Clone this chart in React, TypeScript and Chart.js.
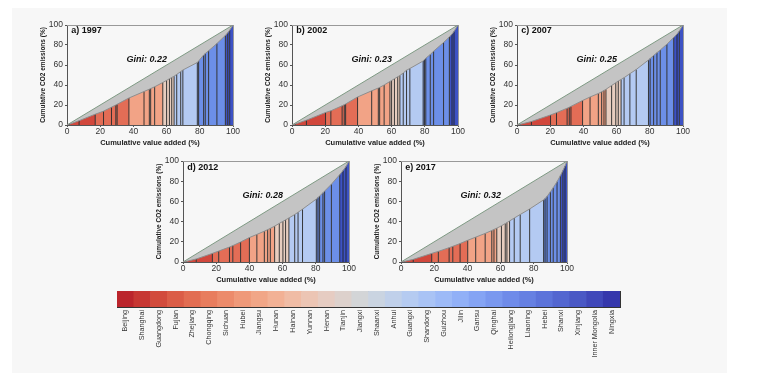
import React, { useEffect, useRef } from "react";
import { Chart, registerables } from "chart.js";
Chart.register(...registerables);

const FONT = '"Liberation Sans", Arial, sans-serif';

const provinces = ["Beijing", "Shanghai", "Guangdong", "Fujian", "Zhejiang", "Chongqing", "Sichuan", "Hubei", "Jiangsu", "Hunan", "Hainan", "Yunnan", "Henan", "Tianjin", "Jiangxi", "Shaanxi", "Anhui", "Guangxi", "Shandong", "Guizhou", "Jilin", "Gansu", "Qinghai", "Heilongjiang", "Liaoning", "Hebei", "Shanxi", "Xinjiang", "Inner Mongolia", "Ningxia"];
const legendValues = [1, 1, 1, 1, 1, 1, 1, 1, 1, 1, 1, 1, 1, 1, 1, 1, 1, 1, 1, 1, 1, 1, 1, 1, 1, 1, 1, 1, 1, 1];
const legendColors = ["#bb252c", "#c73733", "#d24b3c", "#db5d47", "#e26d52", "#e87d5e", "#ec8b6b", "#ef9979", "#f1a687", "#f2b195", "#f0bca5", "#ecc5b4", "#e6ccc2", "#ddd1cc", "#d3d5d7", "#cad4e1", "#c0d0ea", "#b5cbf1", "#a9c3f5", "#9dbaf7", "#91b0f7", "#85a4f4", "#7a98ef", "#6f8be9", "#6680e2", "#5c73da", "#5366d0", "#4a58c5", "#4048ba", "#3537ac"];

// colour group of each rank position (segment) in the Lorenz panels
const rankGroup = [0, 0, 0, 1, 1, 1, 1, 1, 2, 2, 2, 2, 2, 3, 3, 3, 3, 4, 4, 4, 4, 5, 5, 5, 5, 5, 5, 6, 6, 6];
const groupColors = ["#d1473c", "#e36d56", "#f2a386", "#e7cdbf", "#b4caf2", "#6c8fe8", "#3d52c4"];

const panelLabels = ["a) 1997", "b) 2002", "c) 2007", "d) 2012", "e) 2017"];
const giniValues = ["0.22", "0.23", "0.25", "0.28", "0.32"];

const cumValue1997 = [0, 1.5, 7.3, 17, 22, 26.8, 29.4, 30.2, 37.3, 46.4, 49.6, 50.4, 52.8, 57.7, 60, 61.7, 63.1, 64.5, 66.1, 68.5, 69.8, 78.5, 79.3, 82.3, 83.3, 85.3, 90.3, 95.4, 96.8, 98, 100];
const cumCO2_1997 = [0, 0.8, 4.3, 10.8, 13.8, 17.8, 20, 20.7, 27, 33.5, 35.8, 36.4, 38.2, 42.5, 44.6, 46.2, 47.5, 48.8, 50.6, 53.4, 55, 62.5, 64, 70, 71.5, 74.2, 81.5, 89.5, 92.2, 94.8, 100];

const cumValue2002 = [0, 2, 8.7, 20.2, 23.4, 30.2, 31.5, 32.3, 39.5, 48, 52, 52.8, 55.5, 59, 60, 61.7, 63.7, 65, 67, 69, 71, 79, 79.8, 80.6, 83.3, 85.3, 91.3, 94.8, 96.4, 97.6, 100];
const cumCO2_2002 = [0, 1, 4.8, 12.5, 14.2, 19.2, 20.3, 21, 28, 34.2, 37, 37.6, 40, 43.5, 44.5, 46.2, 48.2, 49.5, 52, 54.8, 56.5, 64, 65.4, 66.8, 70.5, 73.8, 82.5, 88, 91, 93.6, 100];

const cumValue2007 = [0, 2, 8.7, 20.2, 23.8, 30.2, 31.5, 32.5, 39.5, 44, 49, 51, 52.4, 53.6, 57, 59.5, 61, 62.7, 64.5, 68, 71.8, 79.2, 80.2, 82.3, 84.3, 86.3, 90.3, 94.4, 96.4, 97.8, 100];
const cumCO2_2007 = [0, 0.7, 3.5, 10, 12.3, 16.8, 17.8, 18.6, 24.5, 28, 31.5, 33.2, 34.5, 35.7, 39.5, 42.2, 44, 45.5, 47.3, 51.3, 55.5, 65, 66.5, 69.5, 72.3, 75, 80.8, 87.5, 91, 94, 100];

const cumValue2012 = [0, 2, 8, 17.7, 21.5, 28, 30, 34.7, 40, 44.5, 49, 51, 52.6, 55.2, 58, 60.2, 61.8, 63.8, 67.3, 69.3, 72, 80.3, 81.3, 82.3, 84.3, 85.3, 89.4, 94.4, 96.4, 98.2, 100];
const cumCO2_2012 = [0, 0.6, 3, 8.5, 10.8, 14.8, 16.2, 19.8, 24.2, 27.3, 30.5, 32, 33.3, 35.5, 38.2, 40.2, 41.7, 43.6, 47, 49.2, 52.3, 62.3, 63.8, 65.3, 68.5, 70.2, 77, 86.5, 90.5, 94.5, 100];

const cumValue2017 = [0, 2, 7.4, 18.5, 22.5, 29, 31.2, 35.6, 40.2, 45, 50.7, 54.7, 56, 57.7, 60.5, 62.8, 63.8, 65.4, 68.2, 71.8, 77.5, 85.9, 86.8, 88, 90, 91.7, 94, 96, 97.5, 98.8, 100];
const cumCO2_2017 = [0, 0.6, 2.6, 8.5, 10.5, 14.2, 15.5, 18.3, 21.5, 24.6, 28.3, 31.2, 32.2, 33.5, 35.8, 38, 39, 40.6, 43.5, 47, 52.5, 61.5, 62.8, 65, 69.5, 73.5, 79.5, 85.5, 90.5, 95, 100];

const axisTicks = [0, 20, 40, 60, 80, 100];

const panelX = [cumValue1997, cumValue2002, cumValue2007, cumValue2012, cumValue2017];
const panelY = [cumCO2_1997, cumCO2_2002, cumCO2_2007, cumCO2_2012, cumCO2_2017];

// plot-area geometry of each panel (pixels)
const panelBoxes = [
  { L: 67, T: 25, W: 166, H: 100 },
  { L: 292, T: 25, W: 166, H: 100 },
  { L: 517, T: 25, W: 166, H: 100 },
  { L: 183, T: 161, W: 166, H: 101 },
  { L: 401, T: 161, W: 166, H: 101 },
];
const YAXW = 30, TOPH = 10, RIGHTW = 12, XAXH = 24;

const panelText = {
  id: "panelText",
  afterDatasetsDraw(chart: any, _args: any, opts: any) {
    const { ctx } = chart;
    const x = chart.scales.x, y = chart.scales.y;
    ctx.save();
    ctx.fillStyle = "#111";
    ctx.textBaseline = "middle";
    ctx.textAlign = "left";
    ctx.font = `bold 9px ${FONT}`;
    ctx.fillText(opts.label, x.getPixelForValue(2.6), y.getPixelForValue(94));
    ctx.textAlign = "center";
    ctx.font = `italic bold 9px ${FONT}`;
    ctx.fillText("Gini: " + opts.gini, x.getPixelForValue(48), y.getPixelForValue(65.5));
    ctx.restore();
  },
};

function Panel({ idx }: { idx: number }) {
  const ref = useRef<HTMLCanvasElement>(null);
  const box = panelBoxes[idx];
  const cw = box.W + YAXW + RIGHTW;
  const ch = box.H + TOPH + XAXH;
  useEffect(() => {
    const xs = panelX[idx], ys = panelY[idx];
    const datasets: any[] = [];
    datasets.push({
      data: [{ x: 0, y: 0 }, { x: 100, y: 100 }],
      borderColor: "#7f9a84", borderWidth: 1, backgroundColor: "#c4c4c4",
      fill: "origin", order: 100, pointRadius: 0,
    });
    for (let k = 0; k < xs.length - 1; k++) {
      datasets.push({
        data: [{ x: xs[k], y: ys[k] }, { x: xs[k + 1], y: ys[k + 1] }],
        borderWidth: 0, backgroundColor: groupColors[rankGroup[k]],
        fill: "origin", order: 50, pointRadius: 0,
      });
    }
    for (let k = 1; k < xs.length - 1; k++) {
      datasets.push({
        data: [{ x: xs[k], y: 0 }, { x: xs[k], y: ys[k] }],
        borderWidth: 1, borderColor: "rgba(30,30,30,0.85)",
        fill: false, order: 10, pointRadius: 0,
      });
    }
    datasets.push({
      data: xs.map((v, k) => ({ x: v, y: ys[k] })),
      borderColor: "#8e8e8e", borderWidth: 1, fill: false, order: 5, pointRadius: 0,
    });
    const tickFont = { size: 8.5, family: FONT };
    const chart = new Chart(ref.current!, {
      type: "line",
      data: { datasets },
      options: {
        animation: false,
        responsive: false,
        devicePixelRatio: 1,
        events: [],
        layout: { padding: 0 },
        plugins: { legend: { display: false }, tooltip: { enabled: false }, panelText: { label: panelLabels[idx], gini: giniValues[idx] } } as any,
        scales: {
          x: {
            type: "linear", position: "bottom", min: 0, max: 100,
            afterBuildTicks: (s: any) => { s.ticks = axisTicks.map((v) => ({ value: v })); },
            ticks: { font: tickFont, color: "#333", padding: 0, maxRotation: 0 },
            grid: { display: true, drawOnChartArea: false, drawTicks: true, tickLength: 2, color: "#555" },
            border: { display: true, color: "#555", width: 1 },
            title: { display: true, text: "Cumulative value added (%)", font: { size: 7.5, weight: "bold", family: FONT }, color: "#222", padding: { top: 0, bottom: 2 } },
            afterFit: (s: any) => { s.height = XAXH; },
          },
          y: {
            type: "linear", position: "left", min: 0, max: 100,
            afterBuildTicks: (s: any) => { s.ticks = axisTicks.map((v) => ({ value: v })); },
            ticks: { font: tickFont, color: "#333", padding: 2 },
            grid: { display: true, drawOnChartArea: false, drawTicks: true, tickLength: 2, color: "#555" },
            border: { display: true, color: "#555", width: 1 },
            title: { display: true, text: "Cumulative CO2 emissions (%)", font: { size: 6.5, weight: "bold", family: FONT }, color: "#222", padding: { top: 2, bottom: 0 } },
            afterFit: (s: any) => { s.width = YAXW; },
          },
          x2: {
            type: "linear", position: "top", min: 0, max: 100,
            ticks: { display: false }, grid: { display: false, drawTicks: false, tickLength: 0 },
            border: { display: true, color: "#999", width: 1 },
            afterFit: (s: any) => { s.height = TOPH; },
          },
          y2: {
            type: "linear", position: "right", min: 0, max: 100,
            ticks: { display: false }, grid: { display: false, drawTicks: false, tickLength: 0 },
            border: { display: true, color: "#999", width: 1 },
            afterFit: (s: any) => { s.width = RIGHTW; },
          },
        } as any,
      },
      plugins: [panelText],
    });
    return () => chart.destroy();
  }, [idx]);
  return (
    <canvas
      ref={ref}
      width={cw}
      height={ch}
      style={{ position: "absolute", left: box.L - YAXW, top: box.T - TOPH, width: cw, height: ch }}
    />
  );
}

function ColorLegend() {
  const ref = useRef<HTMLCanvasElement>(null);
  const left = 110, top = 281, w = 520, h = 90;
  useEffect(() => {
    const chart = new Chart(ref.current!, {
      type: "bar",
      data: {
        labels: provinces,
        datasets: [{ data: legendValues, backgroundColor: legendColors, barPercentage: 1, categoryPercentage: 1, borderWidth: 0 }],
      },
      options: {
        animation: false,
        responsive: false,
        devicePixelRatio: 1,
        events: [],
        layout: { padding: 0 },
        plugins: { legend: { display: false }, tooltip: { enabled: false } },
        scales: {
          x: {
            position: "bottom",
            ticks: { autoSkip: false, minRotation: 90, maxRotation: 90, font: { size: 7.2, family: FONT }, color: "#333", padding: 3 },
            grid: { display: false, drawTicks: false, tickLength: 0 },
            border: { display: true, color: "#333", width: 1 },
            afterFit: (s: any) => { s.height = 64; },
          },
          y: {
            min: 0, max: 1, position: "left",
            ticks: { display: false }, grid: { display: false, drawTicks: false, tickLength: 0 },
            border: { display: true, color: "#333", width: 1 },
            afterFit: (s: any) => { s.width = 7; },
          },
          x2: {
            type: "linear", position: "top", min: 0, max: 1,
            ticks: { display: false }, grid: { display: false, drawTicks: false, tickLength: 0 },
            border: { display: true, color: "#333", width: 1 },
            afterFit: (s: any) => { s.height = 10; },
          },
          y2: {
            type: "linear", position: "right", min: 0, max: 1,
            ticks: { display: false }, grid: { display: false, drawTicks: false, tickLength: 0 },
            border: { display: true, color: "#333", width: 1 },
            afterFit: (s: any) => { s.width = 10; },
          },
        } as any,
      },
    });
    return () => chart.destroy();
  }, []);
  return (
    <canvas ref={ref} width={w} height={h} style={{ position: "absolute", left, top, width: w, height: h }} />
  );
}

export default function App() {
  return (
    <div style={{ position: "absolute", left: 0, top: 0, width: 777, height: 374, background: "#ffffff", overflow: "hidden" }}>
      <div style={{ position: "absolute", left: 12, top: 8, width: 715, height: 365, background: "#f7f7f7" }} />
      {[0, 1, 2, 3, 4].map((i) => (
        <Panel key={i} idx={i} />
      ))}
      <ColorLegend />
    </div>
  );
}
